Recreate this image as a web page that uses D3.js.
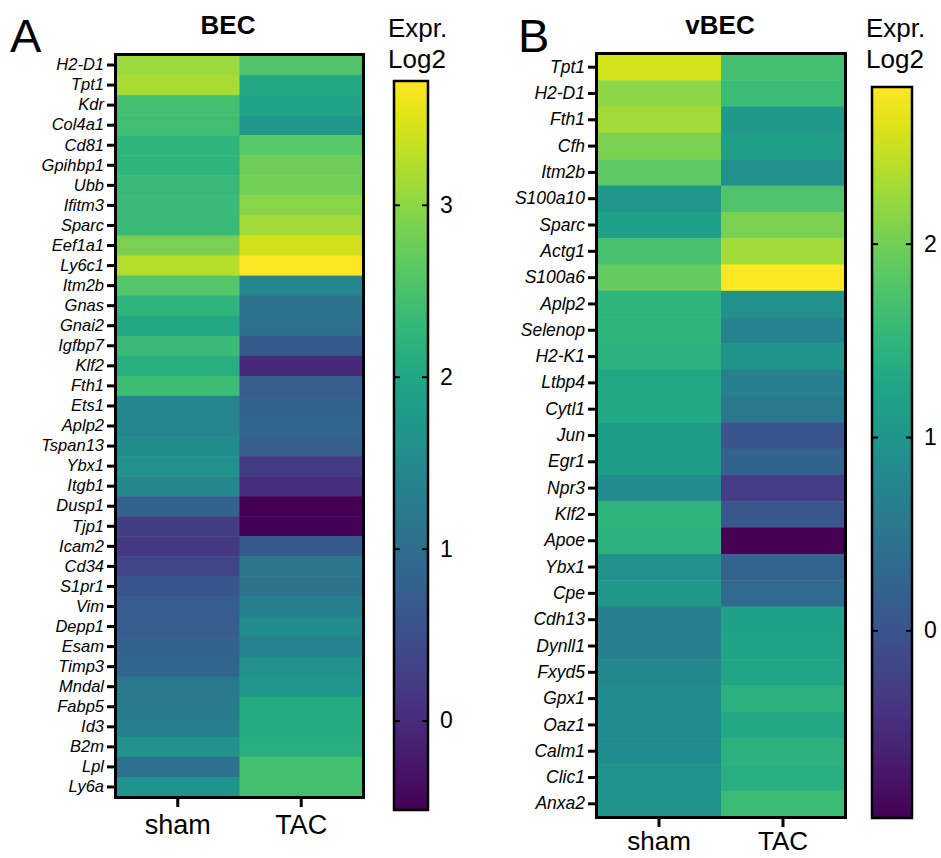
<!DOCTYPE html>
<html>
<head>
<meta charset="utf-8">
<script src="https://cdn.jsdelivr.net/npm/d3@7"></script>
<style>
  body { margin: 0; background: #fff; }
  text { font-family: "Liberation Sans", Arial, sans-serif; fill: #000; }
</style>
</head>
<body>
<div id="chart"></div>
<script>
// columns
const groups = ['sham', 'TAC'];

// A - BEC
const becGenes = ['H2-D1', 'Tpt1', 'Kdr', 'Col4a1', 'Cd81', 'Gpihbp1', 'Ubb', 'Ifitm3', 'Sparc', 'Eef1a1',
  'Ly6c1', 'Itm2b', 'Gnas', 'Gnai2', 'Igfbp7', 'Klf2', 'Fth1', 'Ets1', 'Aplp2', 'Tspan13', 'Ybx1', 'Itgb1',
  'Dusp1', 'Tjp1', 'Icam2', 'Cd34', 'S1pr1', 'Vim', 'Depp1', 'Esam', 'Timp3', 'Mndal', 'Fabp5', 'Id3',
  'B2m', 'Lpl', 'Ly6a'];
const becSham = [3.08, 3.17, 2.45, 2.43, 2.24, 2.24, 2.32, 2.36, 2.36, 2.87,
  3.25, 2.58, 2.24, 2.02, 2.36, 2.15, 2.38, 1.39, 1.41, 1.52, 1.6, 1.45,
  0.79, 0.24, 0.16, 0.37, 0.62, 0.71, 0.71, 0.79, 0.84, 1.18, 1.22, 1.26,
  1.6, 1.05, 1.68];
const becTac = [2.53, 2.02, 1.94, 1.73, 2.62, 2.79, 2.81, 2.96, 3.13, 3.42,
  3.7, 1.43, 1.09, 1.05, 0.67, -0.05, 0.71, 0.79, 0.84, 0.75, 0.2, 0.03,
  -0.52, -0.5, 0.67, 1.13, 1.09, 1.3, 1.52, 1.35, 1.6, 1.73, 2.07, 2.09,
  2.15, 2.45, 2.45];
const becTicks = [0, 1, 2, 3];
const becRange = [-0.52, 3.72];

// B - vBEC
const vbecGenes = ['Tpt1', 'H2-D1', 'Fth1', 'Cfh', 'Itm2b', 'S100a10', 'Sparc', 'Actg1', 'S100a6', 'Aplp2',
  'Selenop', 'H2-K1', 'Ltbp4', 'Cytl1', 'Jun', 'Egr1', 'Npr3', 'Klf2', 'Apoe', 'Ybx1', 'Cpe', 'Cdh13',
  'Dynll1', 'Fxyd5', 'Gpx1', 'Oaz1', 'Calm1', 'Clic1', 'Anxa2'];
const vbecSham = [2.55, 2.17, 2.28, 2.05, 1.87, 1.03, 1.18, 1.71, 1.9, 1.49,
  1.49, 1.45, 1.3, 1.3, 1.11, 1.11, 0.84, 1.49, 1.45, 0.92, 1.07, 0.66,
  0.66, 0.81, 0.84, 0.84, 0.84, 0.96, 0.96];
const vbecTac = [1.68, 1.6, 1.07, 1.15, 0.92, 1.75, 2.05, 2.28, 2.79, 0.92,
  0.69, 1.0, 0.66, 0.54, 0.01, 0.2, -0.29, 0.05, -0.97, 0.24, 0.32, 1.18,
  1.22, 1.26, 1.45, 1.3, 1.45, 1.4, 1.6];
const vbecTicks = [0, 1, 2];
const vbecRange = [-0.97, 2.81];

const svg = d3.select('#chart')
  .append('svg')
  .attr('width', 941)
  .attr('height', 858);

const defs = svg.append('defs');

function drawPanel(p) {
  const g = svg.append('g');
  const rows = p.genes.map((gene, i) => ({ gene, sham: p.sham[i], TAC: p.tac[i] }));
  const cells = [];
  rows.forEach((r) => groups.forEach((c) => cells.push({ gene: r.gene, group: c, value: r[c] })));

  const x = d3.scaleBand().domain(groups).range([p.left, p.right]);
  const y = d3.scaleBand().domain(p.genes).range([p.top, p.bottom]);
  const color = d3.scaleSequential(d3.interpolateViridis).domain(p.range);

  g.selectAll('rect.cell')
    .data(cells)
    .join('rect')
    .attr('class', 'cell')
    .attr('x', (d) => x(d.group))
    .attr('y', (d) => y(d.gene))
    .attr('width', x.bandwidth() + 0.5)
    .attr('height', y.bandwidth() + 0.5)
    .attr('fill', (d) => color(d.value));

  // frame
  g.append('rect')
    .attr('x', p.left - 0.5)
    .attr('y', p.top - 0.5)
    .attr('width', p.right - p.left + 1)
    .attr('height', p.bottom - p.top + 1)
    .attr('fill', 'none')
    .attr('stroke', '#000')
    .attr('stroke-width', 3);

  // gene axis
  const yAxis = g.append('g')
    .attr('transform', `translate(${p.left - 2},0)`)
    .call(d3.axisLeft(y).tickSize(7).tickPadding(3));
  yAxis.select('.domain').remove();
  yAxis.selectAll('line').attr('stroke', '#000').attr('stroke-width', 3);
  yAxis.selectAll('text')
    .style('font-family', '"Liberation Sans", Arial, sans-serif')
    .style('font-style', 'italic')
    .style('font-size', p.labelSize + 'px')
    .attr('fill', '#000');

  // group axis
  const xAxis = g.append('g')
    .attr('transform', `translate(0,${p.bottom + 2})`)
    .call(d3.axisBottom(x).tickSize(8).tickPadding(p.xPad));
  xAxis.select('.domain').remove();
  xAxis.selectAll('line').attr('stroke', '#000').attr('stroke-width', 3);
  xAxis.selectAll('text')
    .style('font-family', '"Liberation Sans", Arial, sans-serif')
    .style('font-size', p.xSize + 'px')
    .attr('fill', '#000');

  // titles
  g.append('text')
    .attr('x', p.titleX)
    .attr('y', 34)
    .attr('text-anchor', 'middle')
    .style('font-weight', 'bold')
    .style('font-size', '26px')
    .text(p.title);
  g.append('text')
    .attr('x', p.letterX)
    .attr('y', 52)
    .style('font-size', '47px')
    .text(p.letter);

  // colour bar
  const cb = p.bar;
  const gradId = 'grad-' + p.letter;
  const grad = defs.append('linearGradient')
    .attr('id', gradId)
    .attr('x1', 0).attr('y1', 1).attr('x2', 0).attr('y2', 0);
  grad.selectAll('stop')
    .data(d3.range(0, 1.001, 0.05))
    .join('stop')
    .attr('offset', (t) => t)
    .attr('stop-color', (t) => d3.interpolateViridis(t));

  const cScale = d3.scaleLinear().domain(p.range).range([cb.bottom, cb.top]);
  g.append('rect')
    .attr('x', cb.left)
    .attr('y', cb.top)
    .attr('width', cb.right - cb.left)
    .attr('height', cb.bottom - cb.top)
    .attr('fill', `url(#${gradId})`)
    .attr('stroke', '#000')
    .attr('stroke-width', 2.5);

  const cbRight = g.append('g')
    .attr('transform', `translate(${cb.right},0)`)
    .call(d3.axisRight(cScale).tickValues(p.ticks).tickFormat(d3.format('d')).tickSize(-6).tickPadding(12));
  cbRight.select('.domain').remove();
  cbRight.selectAll('line').attr('stroke', '#000').attr('stroke-width', 2);
  cbRight.selectAll('text')
    .style('font-family', '"Liberation Sans", Arial, sans-serif')
    .style('font-size', '23px')
    .attr('fill', '#000');

  const cbLeft = g.append('g')
    .attr('transform', `translate(${cb.left},0)`)
    .call(d3.axisRight(cScale).tickValues(p.ticks).tickSize(6).tickFormat(''));
  cbLeft.select('.domain').remove();
  cbLeft.selectAll('line').attr('stroke', '#000').attr('stroke-width', 2);

  g.append('text')
    .attr('x', cb.left - 6)
    .attr('y', 37)
    .style('font-size', '26px')
    .text('Expr.');
  g.append('text')
    .attr('x', cb.left - 6)
    .attr('y', 68)
    .style('font-size', '26px')
    .text('Log2');
}

drawPanel({
  letter: 'A', letterX: 10, title: 'BEC', titleX: 228,
  genes: becGenes, sham: becSham, tac: becTac, range: becRange, ticks: becTicks,
  left: 116, right: 363, top: 55, bottom: 797, labelSize: 16.5, xPad: 8, xSize: 27,
  bar: { left: 394, right: 428, top: 81, bottom: 810 }
});

drawPanel({
  letter: 'B', letterX: 518, title: 'vBEC', titleX: 720,
  genes: vbecGenes, sham: vbecSham, tac: vbecTac, range: vbecRange, ticks: vbecTicks,
  left: 597, right: 845, top: 54, bottom: 817, labelSize: 17.5, xPad: 5, xSize: 26,
  bar: { left: 872, right: 912, top: 87, bottom: 818 }
});
</script>
</body>
</html>
